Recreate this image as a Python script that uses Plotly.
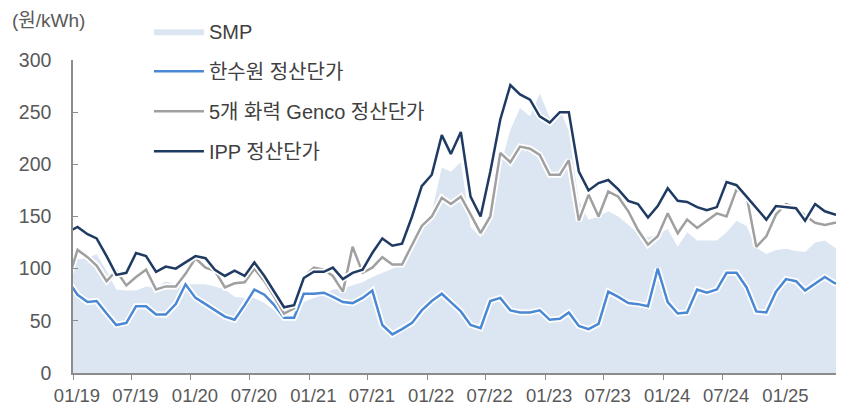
import pandas as pd
import plotly.graph_objects as go

# monthly points, plotted mid-month (Dec-18 .. Jul-25)
months = pd.date_range("2018-12-01", "2025-07-01", freq="MS") + pd.Timedelta(days=14)

smp = [
    111, 109, 110, 114, 98, 80, 79, 79, 83, 82, 88, 85, 85,
    85, 85, 83, 80, 73, 72, 72, 67, 60, 53, 50, 68,
    72, 75, 80, 81, 84, 87, 92, 96, 100, 105, 125, 143,
    154, 197, 193, 202, 140, 130, 152, 198, 233, 254, 246, 268,
    245, 253, 232, 165, 147, 150, 155, 150, 142, 134, 130, 133,
    138, 121, 135, 127, 127, 127, 135, 146, 141, 120, 114, 118,
    119, 117, 116, 125, 127, 120, 120,
]
khnp = [
    89, 75, 68, 69, 57, 46, 48, 64, 64, 56, 56, 66, 85,
    72, 66, 60, 54, 51, 65, 80, 75, 65, 53, 53, 76,
    76, 77, 73, 68, 67, 72, 79, 46, 37, 42, 48, 60,
    69, 76, 68, 59, 46, 43, 69, 72, 60, 58, 58, 60,
    51, 52, 58, 45, 42, 47, 78, 73, 67, 66, 64, 100,
    68, 57, 58, 80, 77, 80, 96, 96, 82, 59, 58, 78,
    90, 88, 79, 86, 92, 86, 86,
]
genco = [
    87, 118, 111, 103, 88, 98, 84, 92, 99, 80, 83, 83, 95,
    110, 101, 98, 82, 86, 87, 100, 88, 73, 57, 62, 92,
    101, 99, 93, 78, 121, 96, 101, 111, 104, 104, 123, 141,
    150, 168, 162, 169, 152, 134, 150, 211, 202, 217, 215, 209,
    190, 190, 204, 146, 171, 150, 174, 169, 155, 137, 123, 131,
    153, 134, 147, 139, 146, 153, 150, 176, 170, 121, 131, 152,
    162, 158, 151, 144, 142, 144, 144,
]
ipp = [
    135, 140, 133, 129, 112, 94, 96, 115, 112, 97, 102, 100, 106,
    112, 110, 99, 93, 98, 93, 106, 93, 78, 63, 65, 91,
    97, 97, 101, 90, 96, 99, 115, 129, 122, 124, 150, 179,
    190, 228, 210, 231, 169, 150, 193, 243, 276, 267, 262, 246,
    240, 250, 250, 193, 175, 182, 185, 176, 165, 162, 149, 160,
    177, 165, 164, 159, 156, 159, 183, 180, 169, 158, 147, 160,
    159, 158, 146, 162, 155, 152, 152,
]

tick_dates = ["2019-01-01", "2019-07-01", "2020-01-01", "2020-07-01", "2021-01-01",
              "2021-07-01", "2022-01-01", "2022-07-01", "2023-01-01", "2023-07-01",
              "2024-01-01", "2024-07-01", "2025-01-01", "2025-07-01"]
tick_text = ["01/19", "07/19", "01/20", "07/20", "01/21", "07/21", "01/22",
             "07/22", "01/23", "07/23", "01/24", "07/24", "01/25", ""]

FONT = "Liberation Sans, Arial, Noto Sans CJK KR, sans-serif"
TEXT_GREY = "#595959"
AXIS_GREY = "#8C8C8C"

fig = go.Figure()

fig.add_trace(go.Scatter(
    x=months, y=smp, name="SMP", legendgroup="smp",
    mode="lines", fill="tozeroy", fillcolor="#DCE6F2",
    line=dict(color="#DCE6F2", width=0),
))

lines = [
    ("한수원 정산단가", khnp, "#4A88D4", "khnp"),
    ("5개 화력 Genco 정산단가", genco, "#A0A0A0", "genco"),
    ("IPP 정산단가", ipp, "#1F3B63", "ipp"),
]
for name, vals, color, grp in lines:
    # white halo under each line
    fig.add_trace(go.Scatter(
        x=months, y=vals, mode="lines", legendgroup=grp, showlegend=False,
        line=dict(color="white", width=6), hoverinfo="skip",
    ))
    fig.add_trace(go.Scatter(
        x=months, y=vals, name=name, legendgroup=grp, mode="lines",
        line=dict(color=color, width=2.5),
    ))

fig.add_annotation(
    text="(원/kWh)", xref="paper", yref="paper", x=-0.082, y=1.127,
    xanchor="left", yanchor="middle", showarrow=False,
    font=dict(family=FONT, size=19, color=TEXT_GREY),
)

# the page body adds an 8px offset, so the figure is 8px smaller than the window
fig.update_layout(
    width=836, height=397,
    margin=dict(l=65, r=4, t=49, b=32),
    paper_bgcolor="white", plot_bgcolor="white",
    font=dict(family=FONT, size=18, color=TEXT_GREY),
    showlegend=True,
    legend=dict(
        x=0.099, y=1.154, xanchor="left", yanchor="top",
        bgcolor="rgba(0,0,0,0)", font=dict(size=20, color="#404040"),
        itemwidth=50, tracegroupgap=11,
    ),
    xaxis=dict(
        type="date", range=["2019-01-01", "2025-07-01"],
        tickvals=tick_dates, ticktext=tick_text,
        showgrid=False, zeroline=False, showline=True,
        linecolor=AXIS_GREY, linewidth=1.5,
        ticks="outside", ticklen=5, tickcolor=AXIS_GREY,
        ticklabelshift=4,
        tickfont=dict(size=18.5, color=TEXT_GREY),
        automargin=False,
    ),
    yaxis=dict(
        range=[0, 300], tickvals=[0, 50, 100, 150, 200, 250, 300],
        showgrid=False, zeroline=False, showline=True,
        linecolor=AXIS_GREY, linewidth=1.5,
        ticks="inside", ticklen=5, tickcolor=AXIS_GREY,
        ticklabelstandoff=16,
        tickfont=dict(size=19.5, color=TEXT_GREY),
        automargin=False,
    ),
)

fig.write_html("out.html")
